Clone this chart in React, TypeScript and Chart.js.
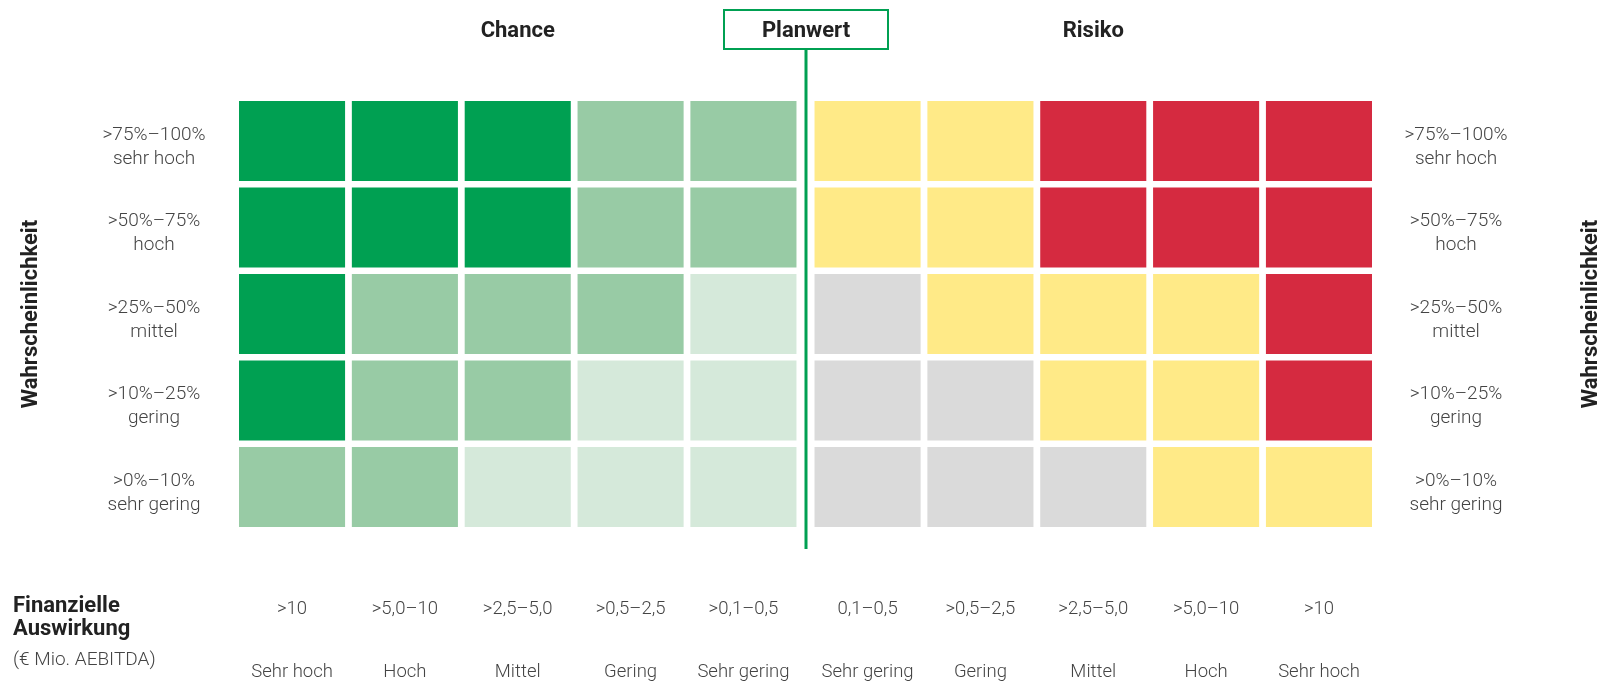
import React, { useEffect, useRef } from "react";
import { Chart, registerables } from "chart.js";

Chart.register(...registerables);

// ---------- data ----------
const probabilityRanges = [">75%–100%", ">50%–75%", ">25%–50%", ">10%–25%", ">0%–10%"];
const probabilityLevels = ["sehr hoch", "hoch", "mittel", "gering", "sehr gering"];

const impactRanges = [">10", ">5,0–10", ">2,5–5,0", ">0,5–2,5", ">0,1–0,5", "0,1–0,5", ">0,5–2,5", ">2,5–5,0", ">5,0–10", ">10"];
const impactLevels = ["Sehr hoch", "Hoch", "Mittel", "Gering", "Sehr gering", "Sehr gering", "Gering", "Mittel", "Hoch", "Sehr hoch"];

const sideTitles = ["Chance", "Risiko"];
const planLabel = "Planwert";
const probabilityTitle = "Wahrscheinlichkeit";
const impactTitle = ["Finanzielle", "Auswirkung"];
const impactUnit = "(€ Mio. AEBITDA)";

// rating per cell, rows top→bottom, columns left→right
const chanceRatings = [
  [3, 3, 3, 2, 2],
  [3, 3, 3, 2, 2],
  [3, 2, 2, 2, 1],
  [3, 2, 2, 1, 1],
  [2, 2, 1, 1, 1],
];
const riskRatings = [
  [1, 1, 2, 2, 2],
  [1, 1, 2, 2, 2],
  [0, 1, 1, 1, 2],
  [0, 0, 1, 1, 2],
  [0, 0, 0, 1, 1],
];

// ---------- styles ----------
const chanceColors: Record<number, string> = { 1: "#D5E9DA", 2: "#98CBA5", 3: "#00A052" };
const riskColors: Record<number, string> = { 0: "#DADADA", 1: "#FFEA87", 2: "#D52A40" };
const GREEN = "#00A052";
const LABEL_COLOR = "#444444";
const TITLE_COLOR = "#222222";
const CELL = 0.94; // cell width in column units
const PLAN_GAP = 0.1; // extra gap at the Planwert line
const nChance = chanceRatings[0].length;

const colStart = (i: number) => i + (i >= nChance ? PLAN_GAP : 0);
const cellColor = (row: number, col: number) =>
  col < nChance ? chanceColors[chanceRatings[row][col]] : riskColors[riskRatings[row][col - nChance]];

const textPlugin = {
  id: "matrixText",
  afterDraw(chart: any) {
    const ctx = chart.ctx as CanvasRenderingContext2D;
    const xs = chart.scales.x;
    const ys = chart.scales.y;
    const colCenter = (i: number) => xs.getPixelForValue(colStart(i) + CELL / 2);
    ctx.save();

    // headers
    ctx.fillStyle = TITLE_COLOR;
    ctx.font = "bold 22px Roboto";
    ctx.textAlign = "center";
    ctx.textBaseline = "alphabetic";
    ctx.fillText(sideTitles[0], colCenter(2), 37);
    ctx.fillText(sideTitles[1], colCenter(7), 37);

    // Planwert marker
    const px = Math.round(xs.getPixelForValue((colStart(nChance - 1) + CELL + colStart(nChance)) / 2));
    ctx.strokeStyle = GREEN;
    ctx.lineWidth = 2;
    ctx.strokeRect(px - 82, 10, 164, 39);
    ctx.lineWidth = 3;
    ctx.beginPath();
    ctx.moveTo(px, 50);
    ctx.lineTo(px, 549);
    ctx.stroke();
    ctx.fillText(planLabel, px, 37);

    // row labels
    ctx.fillStyle = LABEL_COLOR;
    ctx.font = "300 19px Roboto";
    probabilityRanges.forEach((r, i) => {
      const cy = ys.getPixelForValue(i);
      [154, 1456].forEach((x) => {
        ctx.fillText(r, x, cy - 1.5);
        ctx.fillText(probabilityLevels[i], x, cy + 22.5);
      });
    });

    // column labels
    ctx.font = "300 18.5px Roboto";
    impactRanges.forEach((r, i) => {
      const cx = colCenter(i);
      ctx.fillText(r, cx, 614);
      ctx.fillText(impactLevels[i], cx, 677);
    });

    // impact title
    ctx.textAlign = "left";
    ctx.fillStyle = TITLE_COLOR;
    ctx.font = "bold 22px Roboto";
    ctx.fillText(impactTitle[0], 13, 612);
    ctx.fillText(impactTitle[1], 13, 635);
    ctx.fillStyle = LABEL_COLOR;
    ctx.font = "300 19px Roboto";
    ctx.fillText(impactUnit, 13, 665);

    // vertical titles
    const cyMid = (chart.chartArea.top + chart.chartArea.bottom) / 2;
    ctx.fillStyle = TITLE_COLOR;
    ctx.font = "bold 22px Roboto";
    ctx.textAlign = "center";
    [37, 1597].forEach((x) => {
      ctx.save();
      ctx.translate(x, cyMid);
      ctx.rotate(-Math.PI / 2);
      ctx.fillText(probabilityTitle, 0, 0);
      ctx.restore();
    });

    ctx.restore();
  },
};

export default function App() {
  const ref = useRef<HTMLCanvasElement | null>(null);

  useEffect(() => {
    if (!ref.current) return;
    const datasets = impactRanges.map((label, col) => ({
      label,
      data: probabilityRanges.map(() => [colStart(col), colStart(col) + CELL]),
      backgroundColor: probabilityRanges.map((_, row) => cellColor(row, col)),
      borderWidth: 0,
      grouped: false,
      categoryPercentage: 1,
      barPercentage: 0.925,
    }));
    const chart = new Chart(ref.current, {
      type: "bar",
      data: { labels: probabilityRanges, datasets: datasets as any },
      options: {
        indexAxis: "y",
        animation: false,
        responsive: false,
        devicePixelRatio: 1,
        layout: { padding: { left: 239, right: 241, top: 97.75, bottom: 153.75 } },
        plugins: { legend: { display: false }, tooltip: { enabled: false } },
        scales: {
          x: { type: "linear", min: 0, max: colStart(impactRanges.length - 1) + CELL, display: false },
          y: { type: "category", display: false, offset: true },
        },
      },
      plugins: [textPlugin],
    });
    return () => chart.destroy();
  }, []);

  return (
    <div style={{ position: "fixed", left: 0, top: 0, width: 1613, height: 684, background: "#fff" }}>
      <canvas ref={ref} width={1613} height={684} style={{ width: 1613, height: 684, display: "block" }} />
    </div>
  );
}
